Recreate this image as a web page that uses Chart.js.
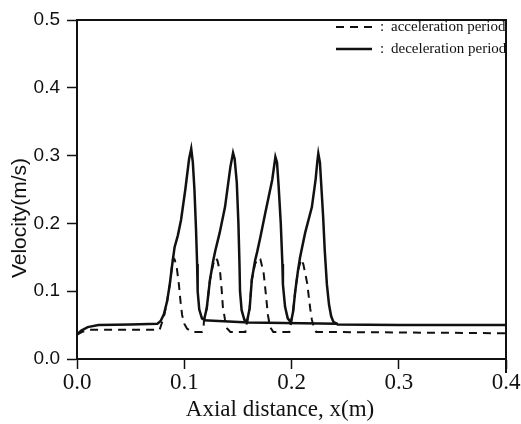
<!DOCTYPE html>
<html>
<head>
<meta charset="utf-8">
<title>Velocity vs axial distance</title>
<script src="https://cdn.jsdelivr.net/npm/chart.js@4.4.0/dist/chart.umd.min.js"></script>
<style>
    body { margin: 0; background: #fff; }
    #wrap { width: 521px; height: 424px; }
</style>
</head>
<body>
<div id="wrap"><canvas id="velocity-chart"></canvas></div>
<script>
// axis ranges / ticks
var x_ticks = [0.0, 0.1, 0.2, 0.3, 0.4];
var y_ticks = [0.0, 0.1, 0.2, 0.3, 0.4, 0.5];
var x_title = 'Axial distance, x(m)';
var y_title = 'Velocity(m/s)';
var legend_labels = ['acceleration period', 'deceleration period'];

// acceleration period (dashed)
var accel_x = [0, 0.005, 0.012, 0.077, 0.081, 0.084, 0.0865, 0.089, 0.0895, 0.091, 0.093, 0.095, 0.0965, 0.098, 0.100, 0.1025, 0.106, 0.110, 0.1165,
    0.118, 0.1185, 0.121, 0.124, 0.127, 0.1295, 0.131, 0.1335, 0.135, 0.136, 0.138, 0.140, 0.143, 0.157,
    0.158, 0.1585, 0.161, 0.163, 0.166, 0.169, 0.171, 0.174, 0.176, 0.178, 0.180, 0.183, 0.198,
    0.199, 0.1995, 0.2015, 0.2035, 0.206, 0.209, 0.211, 0.2146, 0.2174, 0.219, 0.221, 0.223, 0.4];
var accel_y = [0.036, 0.040, 0.043, 0.043, 0.062, 0.085, 0.110, 0.142, 0.149, 0.147, 0.135, 0.110, 0.085, 0.065, 0.052, 0.045, 0.041, 0.040, 0.040,
    0.048, 0.058, 0.075, 0.117, 0.140, 0.149, 0.145, 0.127, 0.100, 0.077, 0.058, 0.045, 0.040, 0.040,
    0.050, 0.055, 0.075, 0.117, 0.140, 0.149, 0.147, 0.127, 0.097, 0.065, 0.047, 0.040, 0.040,
    0.050, 0.054, 0.070, 0.100, 0.130, 0.147, 0.140, 0.112, 0.075, 0.058, 0.045, 0.040, 0.038];

// deceleration period (solid), pulses
var decel_x = [0, 0.004, 0.010, 0.020, 0.050, 0.075,
    0.078, 0.081, 0.084, 0.0865, 0.089, 0.091, 0.094, 0.097, 0.101, 0.1045, 0.1065, 0.108, 0.1095, 0.111, 0.112, 0.1125, 0.114, 0.1165, 0.1185,
    0.121, 0.124, 0.127, 0.129, 0.133, 0.138, 0.143, 0.1455, 0.147, 0.149, 0.1505, 0.1515, 0.152, 0.1535, 0.156, 0.1585,
    0.161, 0.163, 0.166, 0.168, 0.171, 0.1755, 0.182, 0.185, 0.1865, 0.188, 0.190, 0.1915, 0.192, 0.194, 0.1965, 0.1995,
    0.2015, 0.2035, 0.206, 0.208, 0.2127, 0.219, 0.2225, 0.224, 0.225, 0.2265, 0.228, 0.2295, 0.231, 0.233, 0.235, 0.237, 0.239, 0.243, 0.300, 0.400];
var decel_y = [0.036, 0.042, 0.047, 0.050, 0.051, 0.052,
    0.056, 0.066, 0.085, 0.110, 0.142, 0.165, 0.182, 0.205, 0.250, 0.295, 0.310, 0.290, 0.250, 0.190, 0.140, 0.100, 0.073, 0.060, 0.058,
    0.075, 0.117, 0.145, 0.160, 0.186, 0.224, 0.283, 0.304, 0.295, 0.260, 0.200, 0.140, 0.100, 0.072, 0.058, 0.055,
    0.075, 0.117, 0.145, 0.158, 0.180, 0.215, 0.264, 0.298, 0.290, 0.255, 0.200, 0.140, 0.110, 0.077, 0.060, 0.054,
    0.070, 0.100, 0.130, 0.150, 0.186, 0.224, 0.265, 0.290, 0.303, 0.290, 0.250, 0.210, 0.160, 0.110, 0.080, 0.063, 0.055, 0.051, 0.050, 0.050];

// deceleration baseline running on from the first valley
var decel_base_x = [0.118, 0.160, 0.243];
var decel_base_y = [0.057, 0.054, 0.052];

function toPoints(xs, ys) {
    var pts = [];
    for (var i = 0; i < xs.length; i++) pts.push({x: xs[i], y: ys[i]});
    return pts;
}

var ink = '#111';
var dash = [8, 6];

// top/right frame, axis titles and the in-plot legend
var framePlugin = {
    id: 'frame',
    afterDatasetsDraw: function(chart) {
        var ctx = chart.ctx, a = chart.chartArea;
        ctx.save();
        ctx.strokeStyle = ink;
        ctx.lineWidth = 2;
        ctx.beginPath();
        ctx.moveTo(a.left, a.top);
        ctx.lineTo(a.right, a.top);
        ctx.lineTo(a.right, a.bottom + 14);
        ctx.stroke();

        ctx.fillStyle = ink;
        ctx.textBaseline = 'middle';

        // legend
        var rows = [27, 49];
        ctx.font = '15px "Liberation Serif"';
        for (var i = 0; i < rows.length; i++) {
            ctx.beginPath();
            ctx.lineWidth = i == 0 ? 2 : 2.5;
            ctx.setLineDash(i == 0 ? dash : []);
            ctx.moveTo(336, rows[i]);
            ctx.lineTo(372, rows[i]);
            ctx.stroke();
            ctx.fillText(':', 380, rows[i]);
            ctx.fillText(legend_labels[i], 391, rows[i]);
        }

        // axis titles
        ctx.textAlign = 'center';
        ctx.font = '23px "Liberation Serif"';
        ctx.fillText(x_title, 280, 410);
        ctx.translate(20, 218);
        ctx.rotate(-Math.PI / 2);
        ctx.font = '21px "Liberation Sans"';
        ctx.fillText(y_title, 0, 0);
        ctx.restore();
    }
};

Chart.defaults.font.family = '"Liberation Serif"';
Chart.defaults.color = ink;

new Chart(document.getElementById('velocity-chart'), {
    type: 'line',
    data: {
        datasets: [
            {label: legend_labels[0], data: toPoints(accel_x, accel_y), borderColor: ink, borderWidth: 2, borderDash: dash, pointRadius: 0, fill: false, tension: 0},
            {label: legend_labels[1], data: toPoints(decel_x, decel_y), borderColor: ink, borderWidth: 2.5, pointRadius: 0, fill: false, tension: 0},
            {label: 'base', data: toPoints(decel_base_x, decel_base_y), borderColor: ink, borderWidth: 2.5, pointRadius: 0, fill: false, tension: 0}
        ]
    },
    options: {
        responsive: true,
        maintainAspectRatio: false,
        animation: false,
        layout: {padding: {left: 0, top: 20, right: 15, bottom: 0}},
        plugins: {legend: {display: false}, tooltip: {enabled: false}},
        scales: {
            x: {
                type: 'linear',
                min: x_ticks[0],
                max: x_ticks[x_ticks.length - 1],
                afterFit: function(s) { s.height = 65; },
                afterBuildTicks: function(s) { s.ticks = x_ticks.map(function(v) { return {value: v}; }); },
                ticks: {font: {size: 23}, padding: 0, maxRotation: 0, callback: function(v) { return v.toFixed(1); }},
                grid: {drawOnChartArea: false, tickLength: 10, tickColor: ink, tickWidth: 1.5},
                border: {display: true, color: ink, width: 2}
            },
            y: {
                min: y_ticks[0],
                max: y_ticks[y_ticks.length - 1],
                afterFit: function(s) { s.width = 77; },
                afterBuildTicks: function(s) { s.ticks = y_ticks.map(function(v) { return {value: v}; }); },
                ticks: {font: {family: '"Liberation Sans"', size: 19}, padding: 7, callback: function(v) { return v.toFixed(1); }},
                grid: {drawOnChartArea: false, tickLength: 10, tickColor: ink, tickWidth: 1.5},
                border: {display: true, color: ink, width: 2}
            }
        }
    },
    plugins: [framePlugin]
});
</script>
</body>
</html>
